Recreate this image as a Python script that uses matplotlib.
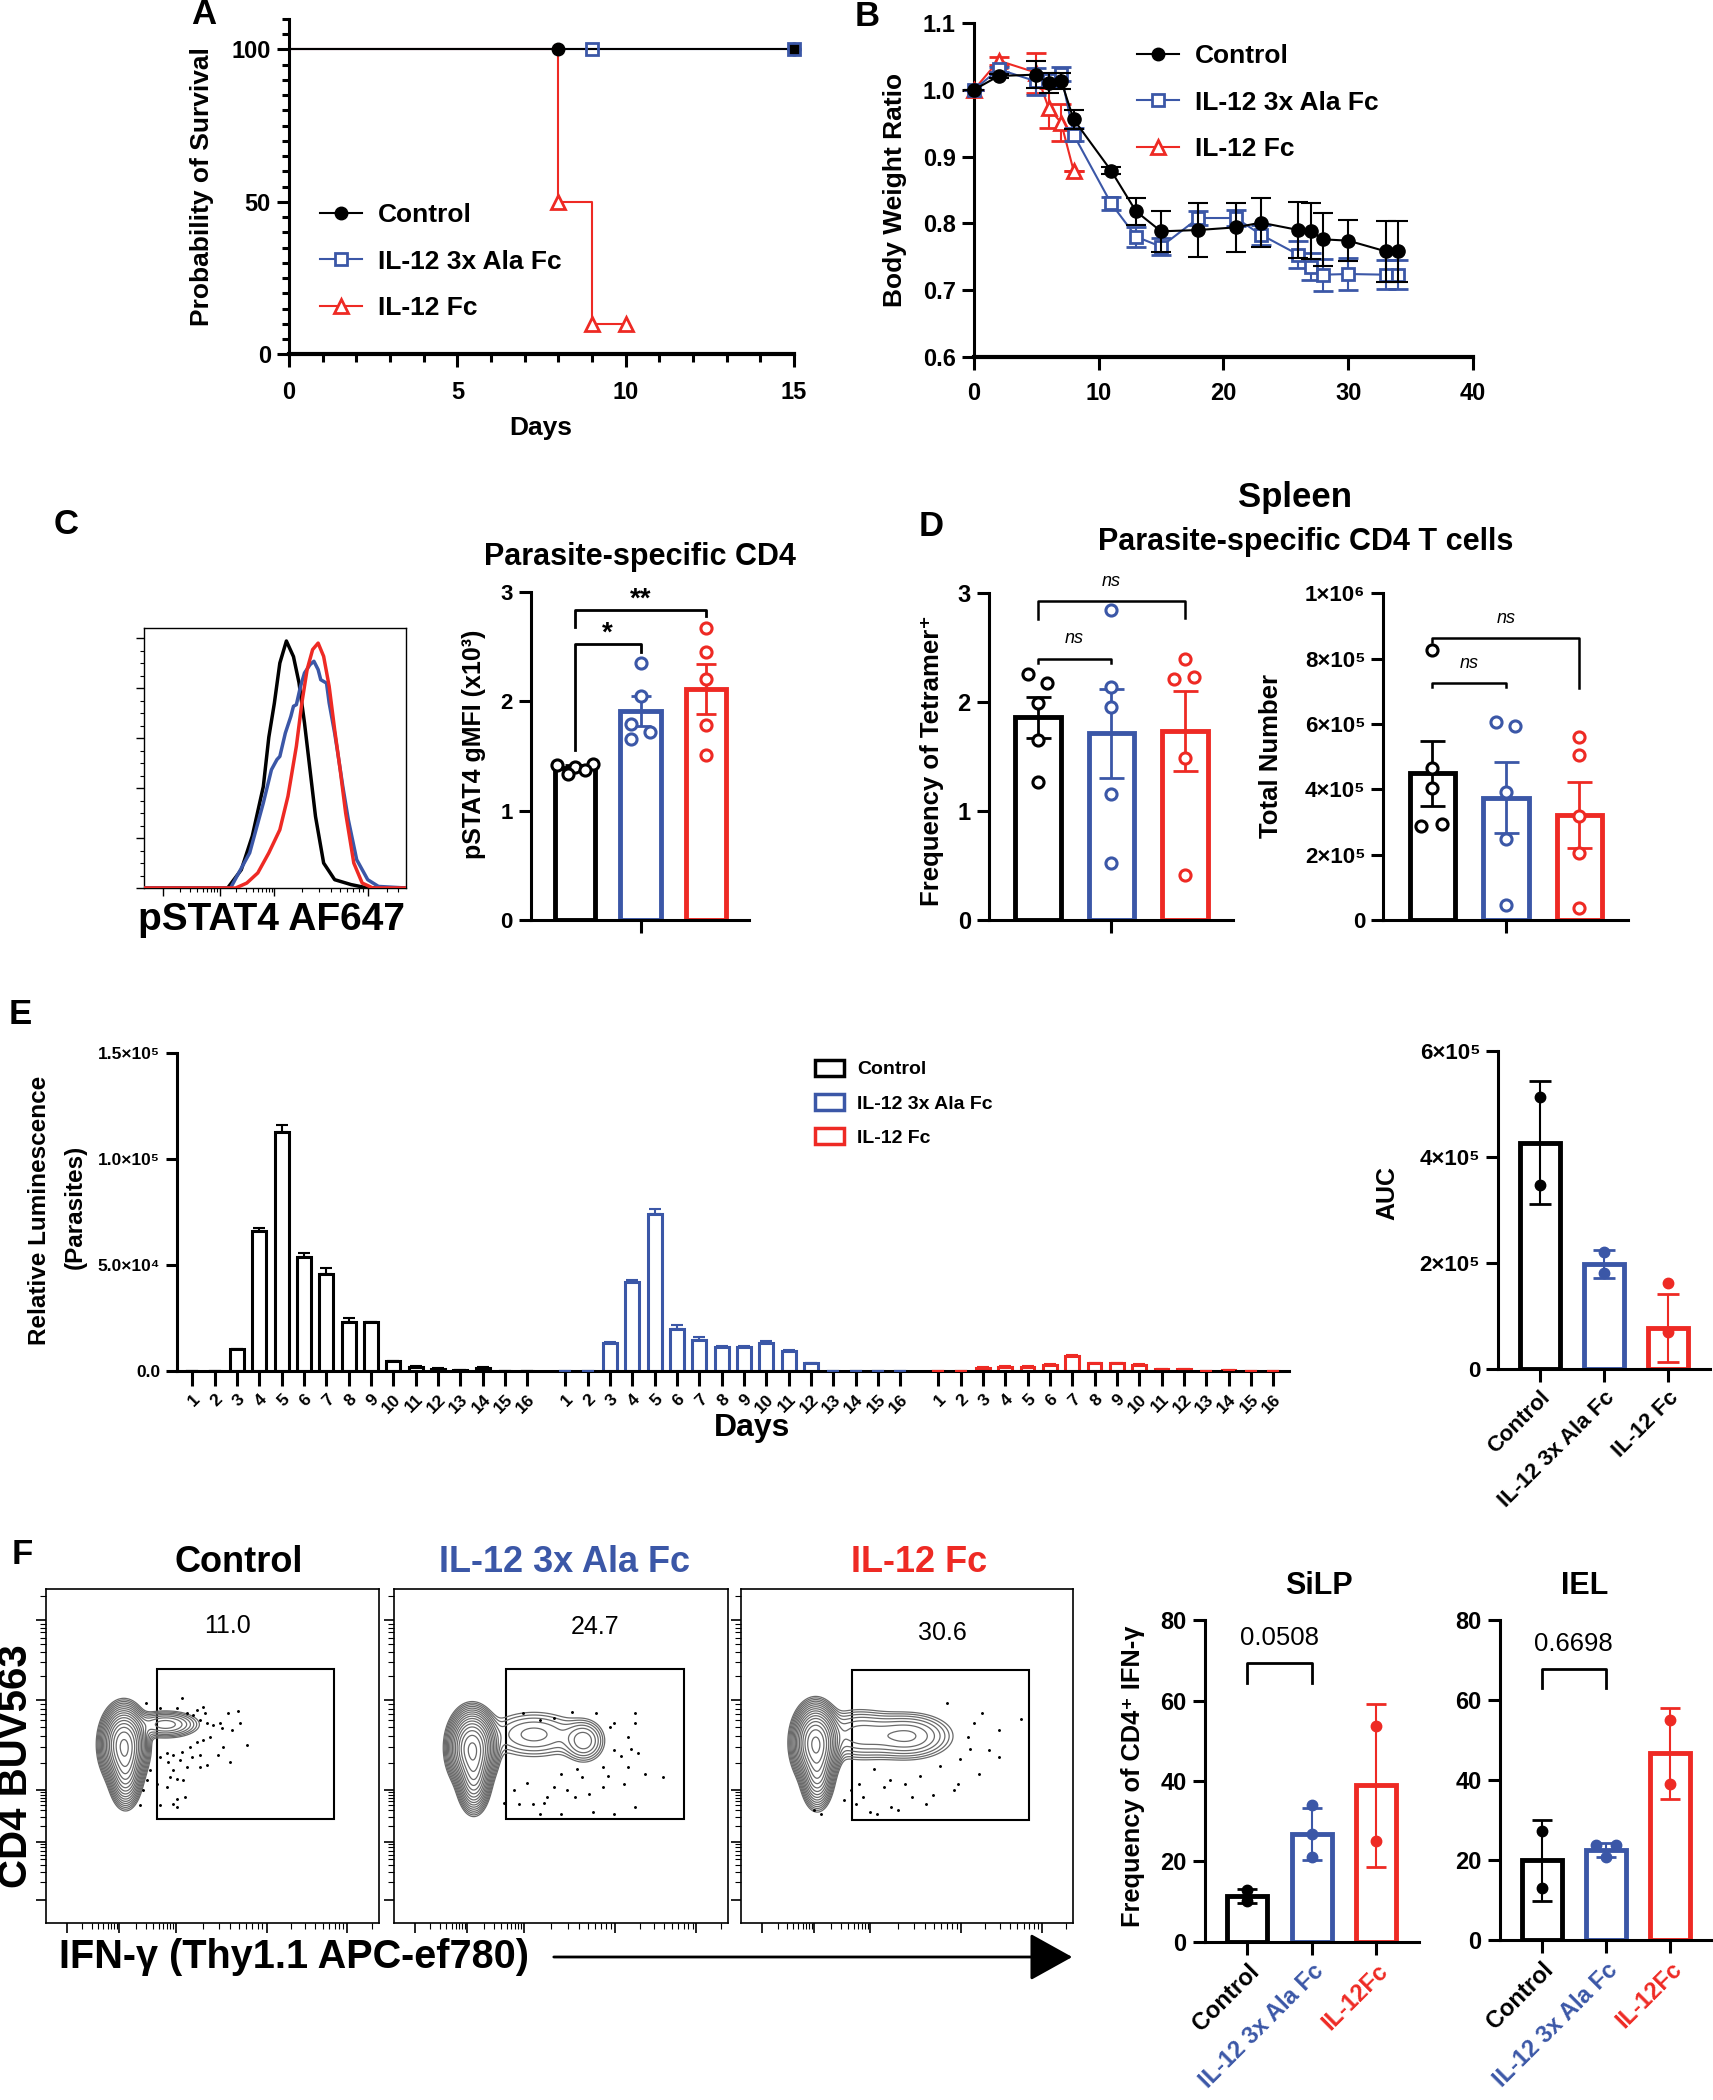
import matplotlib.pyplot as plt
import numpy as np
from matplotlib.lines import Line2D
from matplotlib.patches import Patch, Rectangle, FancyArrowPatch

plt.rcParams['font.family'] = ['Liberation Sans', 'DejaVu Sans']
plt.rcParams['font.weight'] = 'bold'
plt.rcParams['axes.labelweight'] = 'bold'

W, H = 1713, 2100
BLACK = '#000000'
BLUE = '#3b57a7'
RED = '#ee2a24'
COLS = [BLACK, BLUE, RED]
GROUPS = ['Control', 'IL-12 3x Ala Fc', 'IL-12 Fc']

# ---------------- data ----------------
# A: survival (Kaplan-Meier steps)
surv_ctrl_t = [0, 15]
surv_ctrl_s = [100, 100]
surv_ctrl_mk = [8, 15]
surv_ala_t = [0, 15]
surv_ala_s = [100, 100]
surv_ala_mk = [9, 15]
surv_fc_t = [0, 8, 9, 10]
surv_fc_s = [100, 50, 10, 10]
surv_fc_mk_t = [8, 9, 10]
surv_fc_mk_s = [50, 10, 10]

# B: body weight ratio
bw_ctrl_d = [0, 2, 5, 6, 7, 8, 11, 13, 15, 18, 21, 23, 26, 27, 28, 30, 33, 34]
bw_ctrl = [1.0, 1.021, 1.023, 1.01, 1.014, 0.956, 0.879, 0.818, 0.788, 0.79, 0.794, 0.801,
           0.79, 0.788, 0.776, 0.774, 0.758, 0.758]
bw_ctrl_e = [0, 0.003, 0.02, 0.015, 0.012, 0.014, 0.005, 0.02, 0.031, 0.04, 0.037, 0.037,
             0.042, 0.042, 0.04, 0.031, 0.046, 0.046]
bw_ala_d = [0, 2, 5, 6, 7, 8, 11, 13, 15, 18, 21, 23, 26, 27, 28, 30, 33, 34]
bw_ala = [1.0, 1.031, 1.013, 1.015, 1.024, 0.933, 0.83, 0.78, 0.765, 0.808, 0.808, 0.783,
          0.753, 0.735, 0.723, 0.724, 0.723, 0.723]
bw_ala_e = [0, 0.004, 0.02, 0.01, 0.01, 0.01, 0.01, 0.015, 0.013, 0.01, 0.012, 0.015,
            0.02, 0.02, 0.024, 0.024, 0.022, 0.022]
bw_fc_d = [0, 2, 5, 6, 7, 8]
bw_fc = [1.0, 1.044, 1.026, 0.973, 0.951, 0.879]
bw_fc_e = [0, 0.006, 0.03, 0.03, 0.028, 0]

# C: pSTAT4 histogram (channel %, count % of max)
h_blk_x = [0, 32.0, 37.2, 41.4, 45.6, 47.7, 49.8, 51.9, 54.4, 57.1, 59.2, 61.3, 63.4, 65.5, 68.6, 72.8, 79.1, 85.4, 100]
h_blk_y = [0, 0, 7, 20, 39, 58, 71, 86.5, 95, 89, 79, 63.5, 45.5, 27.5, 9.6, 3.2, 1.3, 0, 0]
h_blu_x = [0, 33.1, 40.4, 45.6, 48.7, 50.8, 51.9, 54.0, 56.1, 57.1, 58.2, 59.8, 61.3, 63.4, 64.9,
           66.5, 67.5, 69.7, 70.7, 72.8, 73.8, 75.9, 78.0, 81.2, 85.4, 89.5, 100]
h_blu_y = [0, 0, 13.5, 32.7, 45.5, 49.4, 50.6, 59.6, 66.0, 69.9, 70.5, 77.6, 82.7, 85.9, 87.2,
           84.0, 80.1, 78.8, 71.2, 59.6, 53.2, 39.1, 26.3, 10.9, 3.2, 0.6, 0]
h_red_x = [0, 35.1, 39.3, 43.5, 47.7, 51.9, 55.0, 58.2, 60.3, 62.3, 64.4, 66.5, 68.6, 70.7, 72.8,
           74.9, 77.0, 80.1, 83.3, 87.4, 100]
h_red_y = [0, 0, 1.9, 5.8, 13.5, 22.4, 35.3, 54.5, 71.2, 84.0, 91.7, 94.2, 89.1, 77.6, 60.9,
           45.5, 28.8, 9.6, 1.9, 0, 0]

# C: pSTAT4 gMFI bars
c_mean = [1.39, 1.91, 2.11]
c_sem = [0.03, 0.135, 0.23]
c_pts = [[1.42, 1.43, 1.40, 1.33, 1.37], [2.35, 2.05, 1.79, 1.72, 1.65], [2.67, 2.45, 2.20, 1.78, 1.51]]
c_off = [[-0.27, 0.27, 0.0, -0.1, 0.15], [0, 0, -0.15, 0.15, -0.15], [0, 0, 0, 0, 0]]

# D: spleen tetramer+ frequency and number
d1_mean = [1.861, 1.714, 1.736]
d1_sem = [0.187, 0.41, 0.37]
d1_pts = [[2.26, 2.18, 1.99, 1.65, 1.27], [2.85, 2.14, 1.96, 1.16, 0.52], [2.40, 2.21, 2.23, 1.49, 0.41]]
d1_off = [[-0.14, 0.13, 0, 0, 0], [0, 0, 0, 0, 0], [0, -0.15, 0.13, 0, 0]]
d2_mean = [4.49e5, 3.745e5, 3.21e5]
d2_sem = [1.0e5, 1.08e5, 1.0e5]
d2_pts = [[8.27e5, 4.64e5, 4.03e5, 2.88e5, 2.94e5], [6.07e5, 5.94e5, 3.93e5, 2.47e5, 0.46e5],
          [5.61e5, 5.05e5, 3.18e5, 2.06e5, 0.36e5]]
d2_off = [[0, 0, 0, -0.15, 0.13], [-0.14, 0.13, 0, 0, 0], [0, 0, 0, 0, 0]]

# E: luminescence per day
e_days = list(range(1, 17))
e_ctrl = [0, 0, 1.02e4, 6.61e4, 1.128e5, 5.39e4, 4.56e4, 2.32e4, 2.29e4, 4.6e3, 2.0e3, 1.1e3, 5e2, 1.6e3, 0, 0]
e_ctrl_err = [0, 0, 300, 1.4e3, 3.0e3, 1.9e3, 2.8e3, 1.6e3, 300, 300, 300, 200, 100, 300, 0, 0]
e_ala = [0, 0, 1.3e4, 4.21e4, 7.4e4, 1.98e4, 1.46e4, 1.15e4, 1.15e4, 1.3e4, 9.6e3, 3.6e3, 2e2, 2e2, 0, 2e2]
e_ala_err = [0, 0, 500, 800, 2.5e3, 1.7e3, 1.3e3, 400, 400, 1.0e3, 400, 300, 0, 0, 0, 0]
e_fc = [0, 0, 1.6e3, 1.9e3, 1.9e3, 2.8e3, 7.1e3, 3.6e3, 3.6e3, 2.8e3, 9e2, 9e2, 0, 5e2, 0, 2e2]
e_fc_err = [0, 0, 300, 300, 300, 300, 400, 300, 300, 300, 200, 200, 0, 100, 0, 0]

# E: AUC
auc_mean = [4.27e5, 1.98e5, 0.785e5]
auc_sd = [1.165e5, 0.27e5, 0.64e5]
auc_pts = [[5.13e5, 3.48e5], [2.2e5, 1.81e5], [1.62e5, 0.70e5]]

# F: flow populations (x, y, sx, sy, weight) in frame fractions
flow_titles = ['Control', 'IL-12 3x Ala Fc', 'IL-12 Fc']
flow_pct = ['11.0', '24.7', '30.6']
flow_pops = [
    [(0.235, 0.535, 0.027, 0.045, 1.0), (0.24, 0.46, 0.02, 0.045, 0.4), (0.36, 0.595, 0.05, 0.02, 0.07)],
    [(0.235, 0.525, 0.028, 0.045, 1.0), (0.24, 0.445, 0.02, 0.045, 0.45), (0.42, 0.565, 0.08, 0.04, 0.035),
     (0.57, 0.545, 0.032, 0.033, 0.05)],
    [(0.225, 0.54, 0.027, 0.045, 1.0), (0.23, 0.455, 0.02, 0.045, 0.35), (0.35, 0.565, 0.06, 0.04, 0.045),
     (0.50, 0.56, 0.07, 0.036, 0.06)],
]
flow_dot_x = [
    [0.408, 0.301, 0.343, 0.393, 0.423, 0.443, 0.453, 0.473, 0.478, 0.463, 0.483, 0.503, 0.523, 0.548,
     0.578, 0.583, 0.558, 0.528, 0.493, 0.473, 0.453, 0.433, 0.408, 0.383, 0.363, 0.343, 0.368, 0.403,
     0.423, 0.463, 0.483, 0.518, 0.533, 0.553, 0.603, 0.383, 0.373, 0.393, 0.413, 0.363, 0.333, 0.313,
     0.303, 0.293, 0.283, 0.393, 0.418, 0.383, 0.393, 0.343, 0.463, 0.438],
    [0.386, 0.438, 0.48, 0.533, 0.606, 0.722, 0.648, 0.70, 0.732, 0.753, 0.805, 0.69, 0.627, 0.564,
     0.501, 0.459, 0.417, 0.376, 0.543, 0.596, 0.659, 0.722, 0.501, 0.438, 0.722, 0.659, 0.627, 0.70,
     0.585, 0.48, 0.66, 0.68, 0.64, 0.71, 0.52, 0.55, 0.40, 0.36, 0.33, 0.45],
    [0.62, 0.726, 0.842, 0.778, 0.683, 0.747, 0.778, 0.652, 0.578, 0.515, 0.451, 0.388, 0.346, 0.43,
     0.494, 0.356, 0.409, 0.472, 0.557, 0.641, 0.715, 0.24, 0.22, 0.367, 0.66, 0.69, 0.60, 0.54, 0.45,
     0.40, 0.33, 0.31, 0.70],
]
flow_dot_y = [
    [0.673, 0.658, 0.643, 0.643, 0.628, 0.623, 0.638, 0.648, 0.628, 0.608, 0.598, 0.593, 0.598, 0.628,
     0.636, 0.598, 0.578, 0.583, 0.558, 0.548, 0.543, 0.528, 0.513, 0.503, 0.508, 0.498, 0.483, 0.488,
     0.468, 0.503, 0.473, 0.503, 0.528, 0.483, 0.533, 0.458, 0.438, 0.433, 0.428, 0.408, 0.418, 0.458,
     0.428, 0.398, 0.353, 0.373, 0.378, 0.358, 0.348, 0.353, 0.468, 0.498],
    [0.628, 0.608, 0.613, 0.633, 0.628, 0.628, 0.588, 0.558, 0.508, 0.448, 0.438, 0.418, 0.408, 0.438,
     0.448, 0.378, 0.358, 0.358, 0.378, 0.333, 0.328, 0.348, 0.328, 0.328, 0.598, 0.518, 0.468, 0.468,
     0.388, 0.408, 0.60, 0.50, 0.44, 0.52, 0.40, 0.46, 0.42, 0.40, 0.36, 0.36],
    [0.658, 0.628, 0.61, 0.578, 0.558, 0.518, 0.496, 0.418, 0.383, 0.378, 0.348, 0.333, 0.358, 0.408,
     0.418, 0.418, 0.328, 0.338, 0.358, 0.398, 0.448, 0.328, 0.338, 0.378, 0.49, 0.52, 0.47, 0.44,
     0.43, 0.46, 0.40, 0.37, 0.60],
]

# F: SiLP / IEL IFN-g frequency
silp_mean = [11.3, 26.9, 39.0]
silp_sd = [1.75, 6.45, 20.3]
silp_pts = [[12.9, 10.2], [34.0, 26.9, 21.1], [53.8, 25.1]]
iel_mean = [19.9, 22.6, 46.7]
iel_sd = [10.2, 1.7, 11.3]
iel_pts = [[27.4, 13.0], [23.7, 23.7, 20.8], [55.0, 39.1]]
iel_off = [[0, 0], [-0.16, 0.16, 0], [0, 0]]
f_xlabels = ['Control', 'IL-12 3x Ala Fc', 'IL-12Fc']

# ---------------- helpers ----------------
fig = plt.figure(figsize=(W / 100, H / 100), dpi=100)


def box(x0, y0, x1, y1):
    return fig.add_axes([x0 / W, 1 - y1 / H, (x1 - x0) / W, (y1 - y0) / H])


def ftext(x, y, s, **kw):
    kw.setdefault('ha', 'center')
    kw.setdefault('va', 'center')
    fig.text(x / W, 1 - y / H, s, **kw)


def style(ax, lw=2.2, size=17, length=9, pad=4):
    for s in ['top', 'right']:
        ax.spines[s].set_visible(False)
    for s in ['left', 'bottom']:
        ax.spines[s].set_linewidth(lw)
    ax.tick_params(direction='out', width=lw, length=length, labelsize=size, pad=pad)
    ax.tick_params(which='minor', direction='out', width=lw, length=length * 0.6)


def dot_bar(ax, means, errs, pts, offs=None, filled=False, capsize=8, bw=0.62, ms=8, blw=3.5):
    for i, (m, e, p, c) in enumerate(zip(means, errs, pts, COLS)):
        ax.bar(i, m, width=bw, facecolor='white', edgecolor=c, linewidth=blw, zorder=2)
        ax.errorbar(i, m, yerr=e, color=c, capsize=capsize, capthick=2, elinewidth=2 if not filled else 1.5,
                    zorder=3)
        o = offs[i] if offs is not None else [0] * len(p)
        xs = i + np.asarray(o, dtype=float)
        if filled:
            ax.plot(xs, p, 'o', color=c, ms=ms, zorder=4, clip_on=False)
        else:
            ax.plot(xs, p, 'o', mfc='white', mec=c, mew=2.2, ms=ms, zorder=4, clip_on=False)


def bracket(ax, x0, x1, y, yl, yr, lw=2):
    ax.plot([x0, x0, x1, x1], [yl, y, y, yr], color='k', lw=lw, clip_on=False, zorder=5)


def log_minors(majors):
    out = []
    for a, b in zip(majors[:-1], majors[1:]):
        out += [a + (b - a) * np.log10(k) for k in range(2, 10)]
    return out


# ---------------- A ----------------
axA = box(289, 354.3 - 305 * 1.1, 794, 354.3)
axA.step(surv_fc_t, surv_fc_s, where='post', color=RED, lw=1.5, zorder=2)
axA.plot(surv_ala_t, surv_ala_s, color=BLUE, lw=1.5, zorder=3)
axA.plot(surv_ctrl_t, surv_ctrl_s, color=BLACK, lw=1.5, zorder=4)
axA.plot(surv_fc_mk_t, surv_fc_mk_s, '^', mfc='white', mec=RED, mew=2, ms=10, zorder=5, clip_on=False)
axA.plot(surv_ctrl_mk, [100] * len(surv_ctrl_mk), 'o', color=BLACK, ms=9, zorder=6, clip_on=False)
axA.plot(surv_ala_mk, [100] * len(surv_ala_mk), 's', mfc='none', mec=BLUE, mew=2, ms=9, zorder=7, clip_on=False)
axA.set_xlim(0, 15)
axA.set_ylim(0, 110)
axA.set_xticks([0, 5, 10, 15])
axA.set_xticks(np.arange(0, 16, 1), minor=True)
axA.set_yticks([0, 50, 100])
axA.set_yticks(np.arange(0, 111, 5), minor=True)
style(axA)
axA.tick_params(axis='x', pad=10)
axA.spines['bottom'].set_linewidth(3)
ftext(201.5, 186.5, 'Probability of Survival', rotation=90, fontsize=19)
ftext(541, 428, 'Days', fontsize=19)
hA = [Line2D([], [], color=BLACK, marker='o', ms=9, lw=1.5),
      Line2D([], [], color=BLUE, marker='s', mfc='white', mec=BLUE, mew=2, ms=9, lw=1.5),
      Line2D([], [], color=RED, marker='^', mfc='white', mec=RED, mew=2, ms=10, lw=1.5)]
axA.legend(hA, GROUPS, loc='upper left', bbox_to_anchor=(320 / W, 1 - 203 / H), bbox_transform=fig.transFigure,
           frameon=False, fontsize=19, handlelength=1.6, handletextpad=0.6, labelspacing=0.86, borderpad=0,
           borderaxespad=0)

# ---------------- B ----------------
axB = box(973.7, 23.3, 1473.2, 356.7)
axB.errorbar(bw_fc_d, bw_fc, yerr=bw_fc_e, color=RED, marker='^', mfc='white', mec=RED, mew=2, ms=10,
             lw=1.5, capsize=7, capthick=1.5, zorder=3, clip_on=False)
axB.errorbar(bw_ala_d, bw_ala, yerr=bw_ala_e, color=BLUE, marker='s', mfc='white', mec=BLUE, mew=2, ms=9,
             lw=1.5, capsize=7, capthick=1.5, zorder=4, clip_on=False)
axB.errorbar(bw_ctrl_d, bw_ctrl, yerr=bw_ctrl_e, color=BLACK, marker='o', ms=9.5, lw=1.5, capsize=7,
             capthick=1.5, zorder=5, clip_on=False)
axB.set_xlim(0, 40)
axB.set_ylim(0.6, 1.1)
axB.set_xticks([0, 10, 20, 30, 40])
axB.set_yticks([0.6, 0.7, 0.8, 0.9, 1.0, 1.1])
axB.yaxis.set_major_formatter(plt.FuncFormatter(lambda v, p: f'{v:.1f}'))
style(axB)
axB.tick_params(axis='x', pad=9)
axB.spines['bottom'].set_linewidth(3)
ftext(895, 190, 'Body Weight Ratio', rotation=90, fontsize=19)
hB = [Line2D([], [], color=BLACK, marker='o', ms=9, lw=1.5),
      Line2D([], [], color=BLUE, marker='s', mfc='white', mec=BLUE, mew=2, ms=9, lw=1.5),
      Line2D([], [], color=RED, marker='^', mfc='white', mec=RED, mew=2, ms=10, lw=1.5)]
axB.legend(hB, GROUPS, loc='upper left', bbox_to_anchor=(1137 / W, 1 - 44 / H), bbox_transform=fig.transFigure,
           frameon=False, fontsize=19, handlelength=1.6, handletextpad=0.6, labelspacing=0.86, borderpad=0,
           borderaxespad=0)

# ---------------- C histogram ----------------
axH = box(143.7, 628, 406, 888)
axH.plot(h_blk_x, h_blk_y, color=BLACK, lw=2.5, zorder=3)
axH.plot(h_blu_x, h_blu_y, color=BLUE, lw=2.5, zorder=4)
axH.plot(h_red_x, h_red_y, color=RED, lw=2.5, zorder=5)
for s in axH.spines.values():
    s.set_linewidth(1.0)
axH.set_yticks([0, 19.2, 38.4, 57.6, 76.8, 96])
axH.set_yticks(np.arange(0, 97, 4.8), minor=True)
hx_major = [7.5, 28.9, 49.8, 85.4]
axH.set_xticks(hx_major)
axH.set_xticks(log_minors(hx_major + [110]), minor=True)
axH.set_xlim(0, 100)
axH.set_ylim(0, 100)
axH.tick_params(labelleft=False, labelbottom=False, direction='out', length=6, width=1)
axH.tick_params(which='minor', direction='out', length=3, width=0.8)
ftext(271.5, 920, 'pSTAT4 AF647', fontsize=28)
ftext(66, 525, 'C', fontsize=25)

# ---------------- C bars ----------------
axC = box(531, 591.7, 748.8, 920)
dot_bar(axC, c_mean, c_sem, c_pts, c_off, capsize=7, ms=8)
axC.set_xlim(-0.672, 2.653)
axC.set_ylim(0, 3)
axC.set_yticks([0, 1, 2, 3])
axC.set_xticks([1])
axC.set_xticklabels([''])
style(axC, size=16)
bracket(axC, 0, 1, 2.52, 1.55, 2.45)
bracket(axC, 0, 2, 2.83, 2.68, 2.78)
axC.text(0.5, 2.62, '*', ha='center', va='center', fontsize=20)
axC.text(1.0, 2.93, '**', ha='center', va='center', fontsize=20)
ftext(474.5, 744, 'pSTAT4 gMFI (x10³)', rotation=90, fontsize=18)
ftext(640, 556.7, 'Parasite-specific CD4', fontsize=22)

# ---------------- D ----------------
axD1 = box(988.9, 593.3, 1232.7, 920)
dot_bar(axD1, d1_mean, d1_sem, d1_pts, d1_off, capsize=9, ms=8)
axD1.set_xlim(-0.667, 2.652)
axD1.set_ylim(0, 3)
axD1.set_yticks([0, 1, 2, 3])
axD1.set_xticks([1])
axD1.set_xticklabels([''])
style(axD1, size=17)
bracket(axD1, 0, 1, 2.394, 2.363, 2.363, lw=1.8)
bracket(axD1, 0, 2, 2.933, 2.76, 2.77, lw=1.8)
axD1.text(0.5, 2.587, 'ns', ha='center', va='center', fontsize=13, style='italic', weight='normal')
axD1.text(1.0, 3.107, 'ns', ha='center', va='center', fontsize=13, style='italic', weight='normal')
ftext(932, 761, 'Frequency of Tetramer⁺', rotation=90, fontsize=18.5)

axD2 = box(1383.4, 593.3, 1628.2, 920)
dot_bar(axD2, d2_mean, d2_sem, d2_pts, d2_off, capsize=9, ms=8)
axD2.set_xlim(-0.667, 2.666)
axD2.set_ylim(0, 1e6)
axD2.set_yticks([0, 2e5, 4e5, 6e5, 8e5, 1e6])
axD2.set_yticklabels(['0', '2×10⁵', '4×10⁵', '6×10⁵', '8×10⁵', '1×10⁶'])
axD2.set_xticks([1])
axD2.set_xticklabels([''])
style(axD2, size=16)
bracket(axD2, 0, 1, 7.245e5, 7.12e5, 7.12e5, lw=1.8)
bracket(axD2, 0, 2, 8.62e5, 8.52e5, 7.09e5, lw=1.8)
axD2.text(0.5, 7.86e5, 'ns', ha='center', va='center', fontsize=13, style='italic', weight='normal')
axD2.text(1.0, 9.23e5, 'ns', ha='center', va='center', fontsize=13, style='italic', weight='normal')
ftext(1271, 756.5, 'Total Number', rotation=90, fontsize=18.5)
ftext(1295, 498, 'Spleen', fontsize=25)
ftext(1306, 542, 'Parasite-specific CD4 T cells', fontsize=22)
ftext(931, 527, 'D', fontsize=25)

# ---------------- E ----------------
axE = box(176.9, 1052.7, 1289.5, 1371)
gap = 16.7
series = [(e_ctrl, e_ctrl_err), (e_ala, e_ala_err), (e_fc, e_fc_err)]
ticks, labels = [], []
for g, ((vals, errs), c) in enumerate(zip(series, COLS)):
    xs = g * gap + np.arange(len(e_days))
    axE.bar(xs, vals, width=0.62, facecolor='white', edgecolor=c, linewidth=2.2, zorder=2)
    axE.errorbar(xs, vals, yerr=[np.zeros(len(errs)), errs], fmt='none', ecolor=c, elinewidth=1.5,
                 capsize=4.5, capthick=1.5, zorder=3)
    ticks += list(xs)
    labels += [str(d) for d in e_days]
axE.set_xlim(-0.69, 49.13)
axE.set_ylim(0, 1.5e5)
axE.set_yticks([0, 5e4, 1e5, 1.5e5])
axE.set_yticklabels(['0.0', '5.0×10⁴', '1.0×10⁵', '1.5×10⁵'])
axE.set_xticks(ticks)
axE.set_xticklabels(labels, rotation=45, ha='right', va='top', rotation_mode='anchor')
style(axE, size=12.5, length=8)
axE.tick_params(axis='x', labelsize=12.5, length=11)
ftext(40, 1210, 'Relative Luminescence', rotation=90, fontsize=17.5)
ftext(75, 1207, '(Parasites)', rotation=90, fontsize=17.5)
ftext(752, 1428, 'Days', fontsize=23)
ftext(20, 1014, 'E', fontsize=25)
hE = [Patch(facecolor='white', edgecolor=c, linewidth=2.5) for c in COLS]
axE.legend(hE, GROUPS, loc='upper left', bbox_to_anchor=(814.5 / W, 1 - 1060 / H), bbox_transform=fig.transFigure,
           frameon=False, fontsize=14, handlelength=1.5, handleheight=0.85, handletextpad=0.7,
           labelspacing=0.8, borderpad=0, borderaxespad=0)

# AUC
axU = box(1498.3, 1050.7, 1710, 1369.3)
dot_bar(axU, auc_mean, auc_sd, auc_pts, filled=True, capsize=8, ms=7.5)
axU.set_xlim(-0.653, 2.66)
axU.set_ylim(0, 6e5)
axU.set_yticks([0, 2e5, 4e5, 6e5])
axU.set_yticklabels(['0', '2×10⁵', '4×10⁵', '6×10⁵'])
axU.set_xticks([0, 1, 2])
axU.set_xticklabels(GROUPS, rotation=45, ha='right', va='top', rotation_mode='anchor', fontsize=19.5)
style(axU, size=16)
ftext(1387, 1192.5, 'AUC', rotation=90, fontsize=18)

# ---------------- F flow ----------------
frames = [(45.6, 1589.3, 378.8, 1923), (393.5, 1589.3, 728, 1923), (740.8, 1589.3, 1073.3, 1923)]
gates = [(0.334, 0.312, 0.867, 0.761), (0.336, 0.312, 0.868, 0.761), (0.335, 0.309, 0.867, 0.758)]
pct_pos = [(228, 1626), (595, 1627), (942, 1633)]
title_x = [238.5, 564.7, 919]
fx_major = [0.063, 0.221, 0.39, 0.663, 0.905]
fy_major = [0.069, 0.244, 0.40, 0.668, 0.908]
gx, gy = np.meshgrid(np.linspace(0, 1, 300), np.linspace(0, 1, 300))
for k in range(3):
    ax = box(*frames[k])
    z = np.zeros_like(gx)
    for (mx, my, sx, sy, w) in flow_pops[k]:
        z += w * np.exp(-0.5 * (((gx - mx) / sx) ** 2 + ((gy - my) / sy) ** 2))
    ax.contour(gx, gy, z, levels=z.max() * np.geomspace(0.008, 0.9, 16), colors='#6a6a6a', linewidths=0.9)
    ax.plot(flow_dot_x[k], flow_dot_y[k], 'o', color='k', ms=1.1, lw=0)
    gx0, gy0, gx1, gy1 = gates[k]
    ax.add_patch(Rectangle((gx0, gy0), gx1 - gx0, gy1 - gy0, fill=False, ec='k', lw=1.5))
    for s in ax.spines.values():
        s.set_linewidth(1.2)
    ax.set_xticks(fx_major)
    ax.set_xticks(log_minors(fx_major + [1.15]), minor=True)
    ax.set_yticks(fy_major)
    ax.set_yticks(log_minors(fy_major + [1.15]), minor=True)
    ax.set_xlim(0, 1)
    ax.set_ylim(0, 1)
    ax.tick_params(labelleft=False, labelbottom=False, direction='out', length=7, width=1.2)
    ax.tick_params(which='minor', direction='out', length=4, width=0.8)
    ftext(pct_pos[k][0], pct_pos[k][1], flow_pct[k], fontsize=18, weight='normal')
    ftext(title_x[k], 1562.7, flow_titles[k], fontsize=26, color=COLS[k])
ftext(16, 1766, 'CD4 BUV563', rotation=90, fontsize=29)
ftext(293.7, 1957, 'IFN-γ (Thy1.1 APC-ef780)', fontsize=28.5)
fig.add_artist(FancyArrowPatch((551 / W, 1 - 1957 / H), (1075 / W, 1 - 1957 / H), transform=fig.transFigure,
                               arrowstyle='-|>,head_length=0.9,head_width=0.5', mutation_scale=30, lw=2,
                               color='k'))
ftext(22, 1554, 'F', fontsize=25)

# SiLP / IEL
axS = box(1204.8, 1620.4, 1418.6, 1941.8)
dot_bar(axS, silp_mean, silp_sd, silp_pts, filled=True, capsize=7.5, ms=7.5)
axI = box(1499.5, 1620.4, 1713, 1940)
dot_bar(axI, iel_mean, iel_sd, iel_pts, iel_off, filled=True, capsize=7.5, ms=7.5)
for ax, xr, ttl, tx in [(axS, (-0.663, 2.663), 'SiLP', 1318.9), (axI, (-0.66, 2.67), 'IEL', 1584.7)]:
    ax.set_xlim(*xr)
    ax.set_ylim(0, 80)
    ax.set_yticks([0, 20, 40, 60, 80])
    ax.set_xticks([0, 1, 2])
    ax.set_xticklabels(f_xlabels, rotation=45, ha='right', va='top', rotation_mode='anchor', fontsize=19)
    for lab, c in zip(ax.get_xticklabels(), COLS):
        lab.set_color(c)
    style(ax, size=17)
    ftext(tx, 1585.5, ttl, fontsize=22)
bracket(axS, 0, 1, 69.3, 64.4, 64.4)
axS.text(0.5, 75.6, '0.0508', ha='center', va='center', fontsize=18.5, weight='normal')
bracket(axI, 0, 1, 67.8, 63.0, 63.0)
axI.text(0.5, 74.2, '0.6698', ha='center', va='center', fontsize=18.5, weight='normal')
ftext(1133, 1776.6, 'Frequency of CD4⁺ IFN-γ', rotation=90, fontsize=18.3)

# panel letters
ftext(204, 14, 'A', fontsize=25)
ftext(867, 16, 'B', fontsize=25)

fig.savefig('out.png', dpi=100)
